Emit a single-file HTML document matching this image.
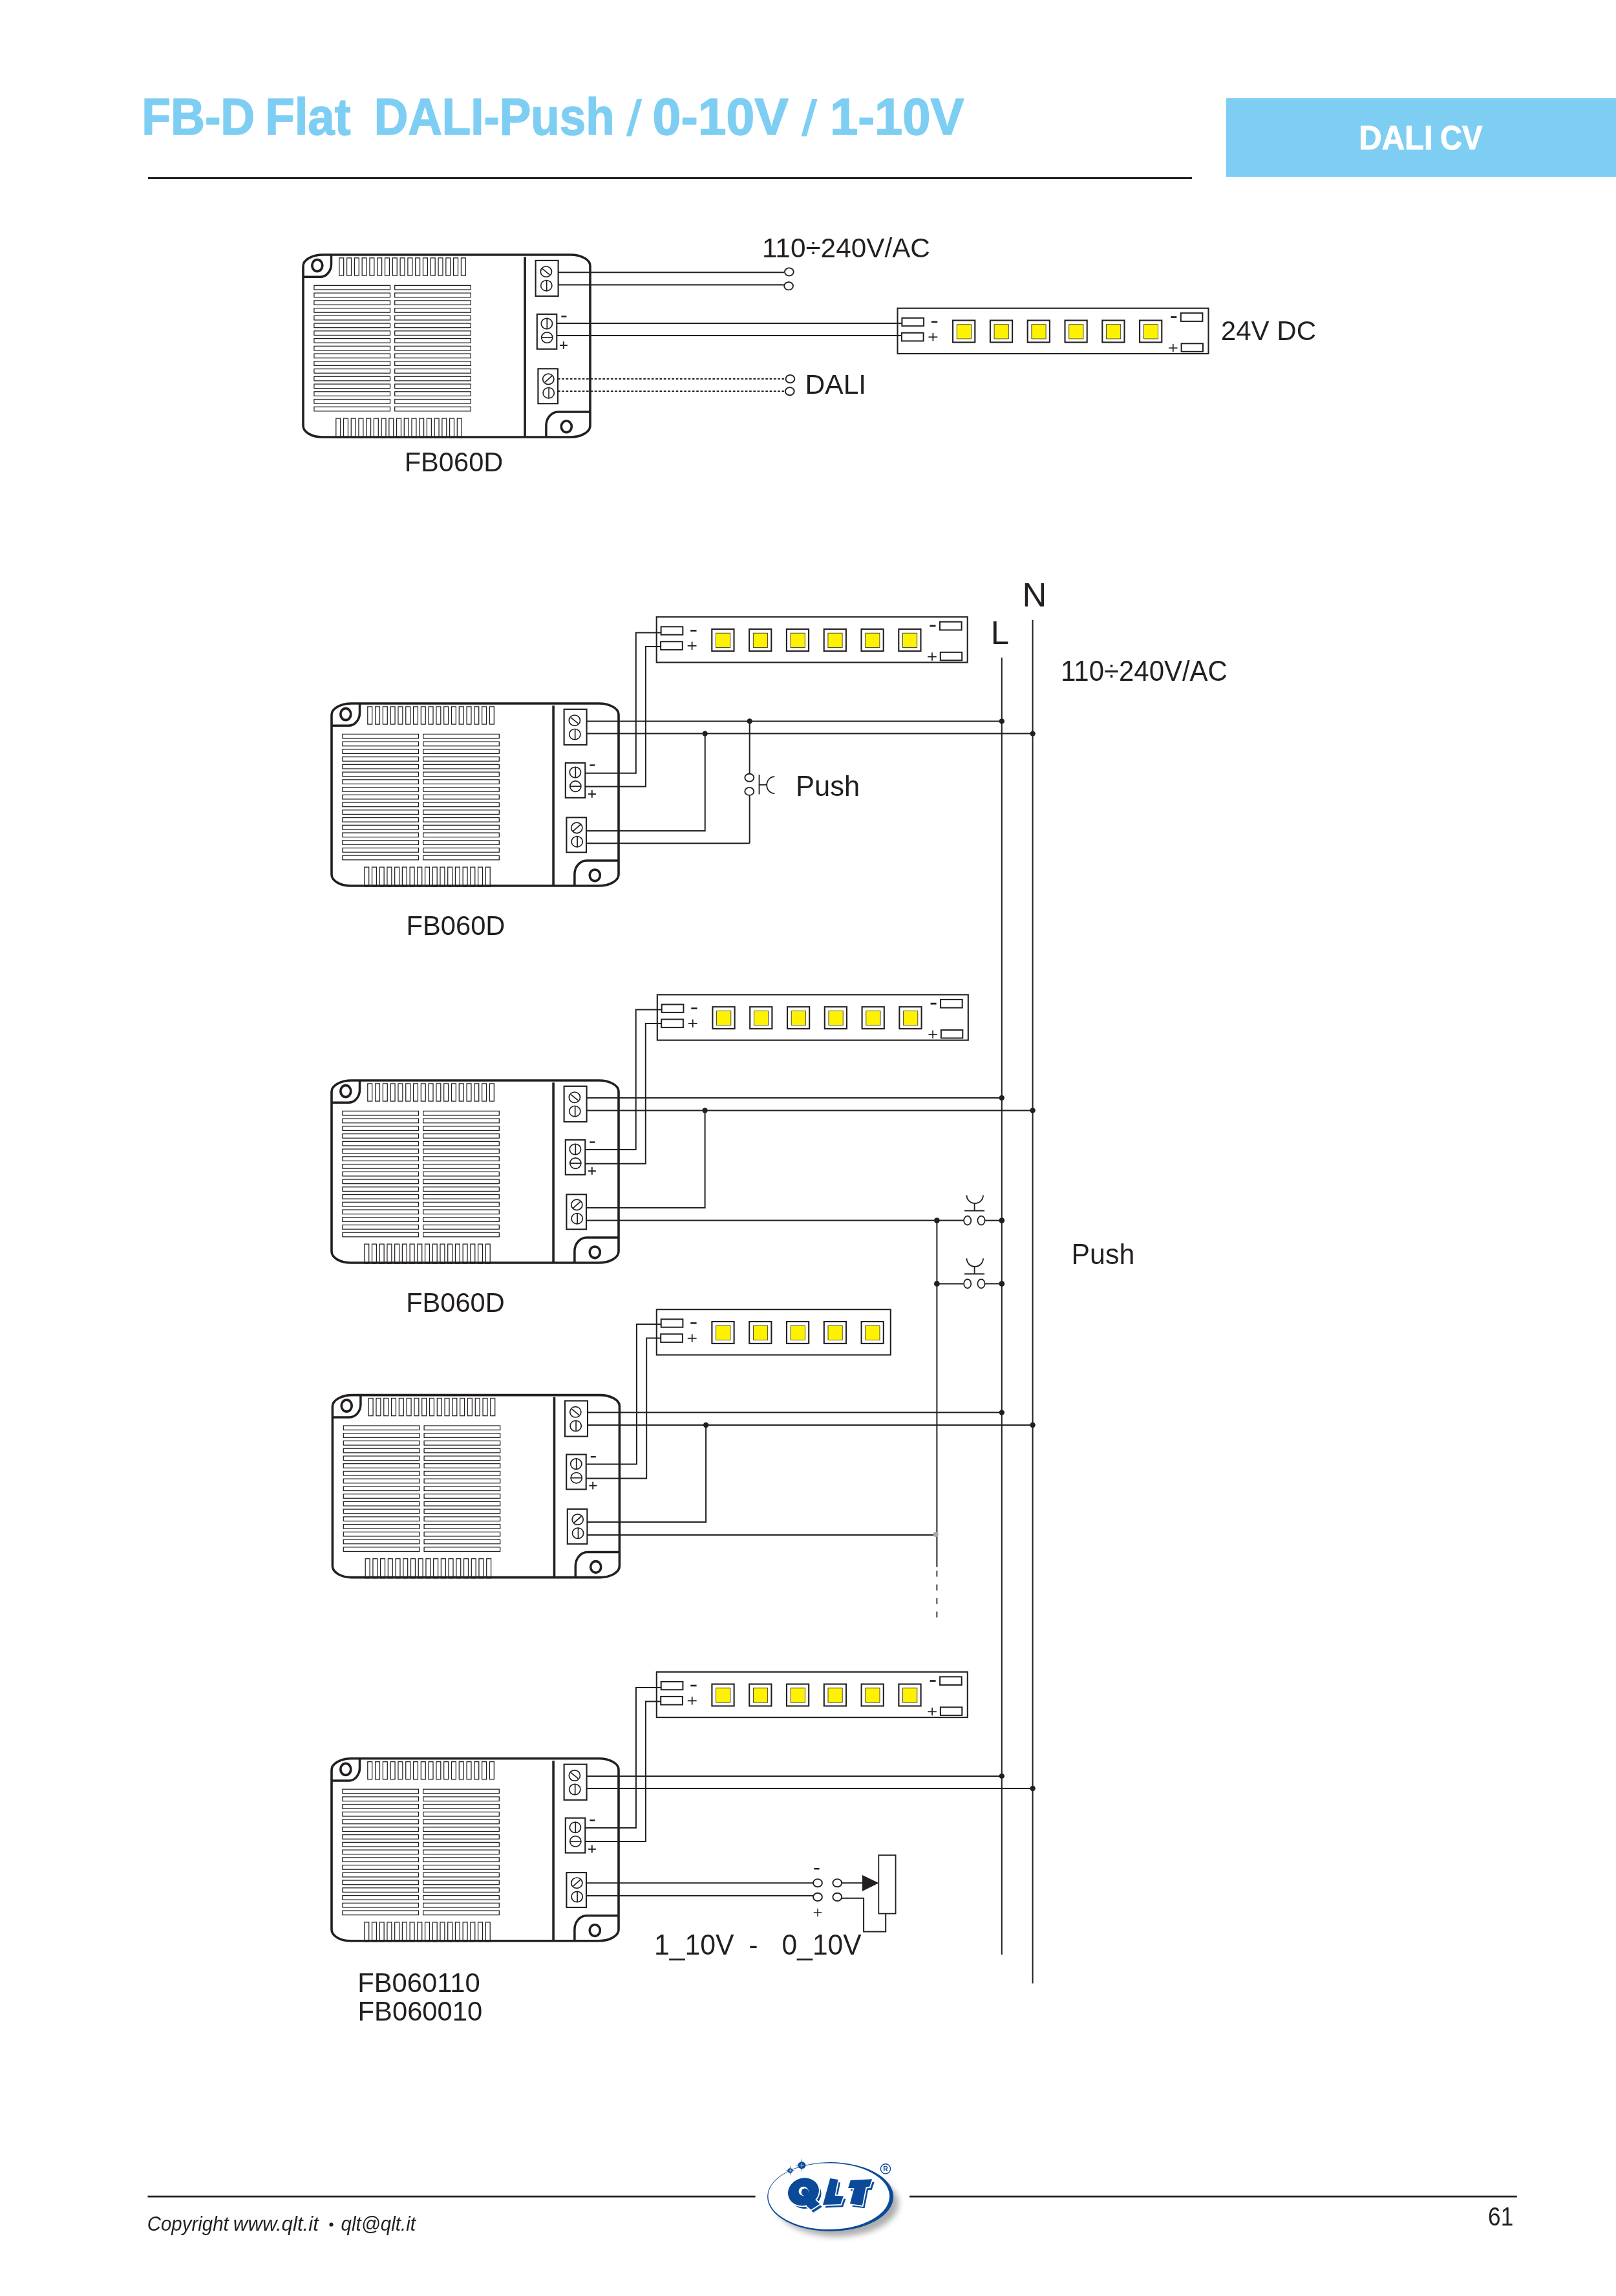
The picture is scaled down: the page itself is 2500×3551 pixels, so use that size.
<!DOCTYPE html><html><head><meta charset="utf-8"><style>html,body{margin:0;padding:0;background:#fff;width:2500px;height:3551px;overflow:hidden}svg{display:block;will-change:transform}text{font-family:"Liberation Sans",sans-serif}</style></head><body>
<svg width="2500" height="3551" viewBox="0 0 2500 3551">
<defs>
<g id="dev">
<rect x="55.8" y="4.9" width="6.9" height="27.2" stroke-width="1.25"/>
<rect x="67.59" y="4.9" width="6.9" height="27.2" stroke-width="1.25"/>
<rect x="79.38" y="4.9" width="6.9" height="27.2" stroke-width="1.25"/>
<rect x="91.17" y="4.9" width="6.9" height="27.2" stroke-width="1.25"/>
<rect x="102.96" y="4.9" width="6.9" height="27.2" stroke-width="1.25"/>
<rect x="114.75" y="4.9" width="6.9" height="27.2" stroke-width="1.25"/>
<rect x="126.54" y="4.9" width="6.9" height="27.2" stroke-width="1.25"/>
<rect x="138.33" y="4.9" width="6.9" height="27.2" stroke-width="1.25"/>
<rect x="150.12" y="4.9" width="6.9" height="27.2" stroke-width="1.25"/>
<rect x="161.91" y="4.9" width="6.9" height="27.2" stroke-width="1.25"/>
<rect x="173.7" y="4.9" width="6.9" height="27.2" stroke-width="1.25"/>
<rect x="185.49" y="4.9" width="6.9" height="27.2" stroke-width="1.25"/>
<rect x="197.28" y="4.9" width="6.9" height="27.2" stroke-width="1.25"/>
<rect x="209.07" y="4.9" width="6.9" height="27.2" stroke-width="1.25"/>
<rect x="220.86" y="4.9" width="6.9" height="27.2" stroke-width="1.25"/>
<rect x="232.65" y="4.9" width="6.9" height="27.2" stroke-width="1.25"/>
<rect x="244.44" y="4.9" width="6.9" height="27.2" stroke-width="1.25"/>
<rect x="50.8" y="253.1" width="6.9" height="30" stroke-width="1.25"/>
<rect x="62.52" y="253.1" width="6.9" height="30" stroke-width="1.25"/>
<rect x="74.24" y="253.1" width="6.9" height="30" stroke-width="1.25"/>
<rect x="85.96" y="253.1" width="6.9" height="30" stroke-width="1.25"/>
<rect x="97.68" y="253.1" width="6.9" height="30" stroke-width="1.25"/>
<rect x="109.4" y="253.1" width="6.9" height="30" stroke-width="1.25"/>
<rect x="121.12" y="253.1" width="6.9" height="30" stroke-width="1.25"/>
<rect x="132.84" y="253.1" width="6.9" height="30" stroke-width="1.25"/>
<rect x="144.56" y="253.1" width="6.9" height="30" stroke-width="1.25"/>
<rect x="156.28" y="253.1" width="6.9" height="30" stroke-width="1.25"/>
<rect x="168" y="253.1" width="6.9" height="30" stroke-width="1.25"/>
<rect x="179.72" y="253.1" width="6.9" height="30" stroke-width="1.25"/>
<rect x="191.44" y="253.1" width="6.9" height="30" stroke-width="1.25"/>
<rect x="203.16" y="253.1" width="6.9" height="30" stroke-width="1.25"/>
<rect x="214.88" y="253.1" width="6.9" height="30" stroke-width="1.25"/>
<rect x="226.6" y="253.1" width="6.9" height="30" stroke-width="1.25"/>
<rect x="238.32" y="253.1" width="6.9" height="30" stroke-width="1.25"/>
<rect x="16.9" y="47.4" width="117.6" height="6.6" stroke-width="1.25"/>
<rect x="141.7" y="47.4" width="117.6" height="6.6" stroke-width="1.25"/>
<rect x="16.9" y="59.14" width="117.6" height="6.6" stroke-width="1.25"/>
<rect x="141.7" y="59.14" width="117.6" height="6.6" stroke-width="1.25"/>
<rect x="16.9" y="70.88" width="117.6" height="6.6" stroke-width="1.25"/>
<rect x="141.7" y="70.88" width="117.6" height="6.6" stroke-width="1.25"/>
<rect x="16.9" y="82.62" width="117.6" height="6.6" stroke-width="1.25"/>
<rect x="141.7" y="82.62" width="117.6" height="6.6" stroke-width="1.25"/>
<rect x="16.9" y="94.36" width="117.6" height="6.6" stroke-width="1.25"/>
<rect x="141.7" y="94.36" width="117.6" height="6.6" stroke-width="1.25"/>
<rect x="16.9" y="106.1" width="117.6" height="6.6" stroke-width="1.25"/>
<rect x="141.7" y="106.1" width="117.6" height="6.6" stroke-width="1.25"/>
<rect x="16.9" y="117.84" width="117.6" height="6.6" stroke-width="1.25"/>
<rect x="141.7" y="117.84" width="117.6" height="6.6" stroke-width="1.25"/>
<rect x="16.9" y="129.58" width="117.6" height="6.6" stroke-width="1.25"/>
<rect x="141.7" y="129.58" width="117.6" height="6.6" stroke-width="1.25"/>
<rect x="16.9" y="141.32" width="117.6" height="6.6" stroke-width="1.25"/>
<rect x="141.7" y="141.32" width="117.6" height="6.6" stroke-width="1.25"/>
<rect x="16.9" y="153.06" width="117.6" height="6.6" stroke-width="1.25"/>
<rect x="141.7" y="153.06" width="117.6" height="6.6" stroke-width="1.25"/>
<rect x="16.9" y="164.8" width="117.6" height="6.6" stroke-width="1.25"/>
<rect x="141.7" y="164.8" width="117.6" height="6.6" stroke-width="1.25"/>
<rect x="16.9" y="176.54" width="117.6" height="6.6" stroke-width="1.25"/>
<rect x="141.7" y="176.54" width="117.6" height="6.6" stroke-width="1.25"/>
<rect x="16.9" y="188.28" width="117.6" height="6.6" stroke-width="1.25"/>
<rect x="141.7" y="188.28" width="117.6" height="6.6" stroke-width="1.25"/>
<rect x="16.9" y="200.02" width="117.6" height="6.6" stroke-width="1.25"/>
<rect x="141.7" y="200.02" width="117.6" height="6.6" stroke-width="1.25"/>
<rect x="16.9" y="211.76" width="117.6" height="6.6" stroke-width="1.25"/>
<rect x="141.7" y="211.76" width="117.6" height="6.6" stroke-width="1.25"/>
<rect x="16.9" y="223.5" width="117.6" height="6.6" stroke-width="1.25"/>
<rect x="141.7" y="223.5" width="117.6" height="6.6" stroke-width="1.25"/>
<rect x="16.9" y="235.24" width="117.6" height="6.6" stroke-width="1.25"/>
<rect x="141.7" y="235.24" width="117.6" height="6.6" stroke-width="1.25"/>
<path d="M0,17.5 A31,17.5 0 0 1 31,0 H413.5 A30.5,17 0 0 1 444,17 V264.5 A30.5,17.5 0 0 1 413.5,282 H29.5 A29.5,17.5 0 0 1 0,264.5 Z" stroke-width="3.6" fill="none"/>
<line x1="343.1" y1="3.2" x2="343.1" y2="281" stroke-width="3.6"/>
<path d="M43.5,0 V14.5 A17.3,19.8 0 0 1 26.2,34.3 H0" stroke-width="3.5" fill="none"/>
<ellipse cx="21.8" cy="16.6" rx="8.0" ry="9.0" stroke-width="3.7" fill="none"/>
<path d="M444,243 H394.4 A18.5,21.4 0 0 0 375.9,264.4 V282" stroke-width="3.5" fill="none"/>
<ellipse cx="407.3" cy="265.8" rx="8.05" ry="8.8" stroke-width="3.6" fill="none"/>
<rect x="359.6" y="8.9" width="35" height="55.1" stroke-width="2.1" fill="none"/>
<ellipse cx="375.9" cy="26.2" rx="8.6" ry="8.2" stroke-width="1.7" fill="none"/>
<line x1="370" y1="21.6" x2="381.3" y2="30.8" stroke-width="1.7"/>
<ellipse cx="376.3" cy="47.7" rx="8.6" ry="8.2" stroke-width="1.7" fill="none"/>
<line x1="376.7" y1="39.1" x2="376.7" y2="56.3" stroke-width="1.7"/>
<rect x="361.8" y="91.9" width="30.5" height="53.9" stroke-width="2.1" fill="none"/>
<ellipse cx="376.9" cy="106.5" rx="8.6" ry="8.2" stroke-width="1.7" fill="none"/>
<line x1="377.3" y1="97.9" x2="377.3" y2="115.1" stroke-width="1.7"/>
<ellipse cx="377.3" cy="128.1" rx="8.6" ry="8.2" stroke-width="1.7" fill="none"/>
<line x1="368.7" y1="128.1" x2="385.9" y2="128.1" stroke-width="1.7"/>
<rect x="363.4" y="176.3" width="30.6" height="53.9" stroke-width="2.1" fill="none"/>
<ellipse cx="379.3" cy="192.4" rx="8.6" ry="8.2" stroke-width="1.7" fill="none"/>
<line x1="373.7" y1="197.4" x2="384.9" y2="187.4" stroke-width="1.7"/>
<ellipse cx="379.7" cy="213.7" rx="8.6" ry="8.2" stroke-width="1.7" fill="none"/>
<line x1="380.1" y1="205.1" x2="380.1" y2="222.3" stroke-width="1.7"/>
<line x1="399.4" y1="95.5" x2="407.4" y2="95.5" stroke-width="2.4"/>
<line x1="397" y1="140.1" x2="408.9" y2="140.1" stroke-width="1.9"/>
<line x1="402.8" y1="134.1" x2="402.8" y2="145.8" stroke-width="1.9"/>
</g>
<g id="strip6">
<rect x="0" y="0" width="481" height="70.3" stroke-width="2.1" fill="#fff"/>
<rect x="6.9" y="15.1" width="33.7" height="12.4" stroke-width="2"/>
<rect x="6.4" y="38.1" width="33.7" height="12.6" stroke-width="2"/>
<line x1="52.5" y1="21.2" x2="61.8" y2="21.2" stroke-width="2.6"/>
<line x1="48" y1="44.6" x2="61.8" y2="44.6" stroke-width="1.8"/>
<line x1="54.9" y1="38.2" x2="54.9" y2="50.7" stroke-width="1.8"/>
<rect x="85.6" y="18.8" width="34.2" height="33.9" stroke-width="2.1"/>
<rect x="91.8" y="25" width="22.2" height="22.3" fill="#fff200" stroke="#3d3a2a" stroke-width="0.9"/>
<rect x="143.4" y="18.8" width="34.2" height="33.9" stroke-width="2.1"/>
<rect x="149.6" y="25" width="22.2" height="22.3" fill="#fff200" stroke="#3d3a2a" stroke-width="0.9"/>
<rect x="201.2" y="18.8" width="34.2" height="33.9" stroke-width="2.1"/>
<rect x="207.4" y="25" width="22.2" height="22.3" fill="#fff200" stroke="#3d3a2a" stroke-width="0.9"/>
<rect x="259" y="18.8" width="34.2" height="33.9" stroke-width="2.1"/>
<rect x="265.2" y="25" width="22.2" height="22.3" fill="#fff200" stroke="#3d3a2a" stroke-width="0.9"/>
<rect x="316.8" y="18.8" width="34.2" height="33.9" stroke-width="2.1"/>
<rect x="323" y="25" width="22.2" height="22.3" fill="#fff200" stroke="#3d3a2a" stroke-width="0.9"/>
<rect x="374.6" y="18.8" width="34.2" height="33.9" stroke-width="2.1"/>
<rect x="380.8" y="25" width="22.2" height="22.3" fill="#fff200" stroke="#3d3a2a" stroke-width="0.9"/>
<rect x="438.3" y="7.5" width="33.6" height="12.7" stroke-width="2"/>
<rect x="439.1" y="54.6" width="33.4" height="12.5" stroke-width="2"/>
<line x1="422.8" y1="13.8" x2="431.8" y2="13.8" stroke-width="2.8"/>
<line x1="419.6" y1="61.5" x2="433" y2="61.5" stroke-width="1.7"/>
<line x1="426.3" y1="55.1" x2="426.3" y2="67.5" stroke-width="1.7"/>
</g>
<g id="strip5">
<rect x="0" y="0" width="362" height="70.3" stroke-width="2.1" fill="#fff"/>
<rect x="6.9" y="15.1" width="33.7" height="12.4" stroke-width="2"/>
<rect x="6.4" y="38.1" width="33.7" height="12.6" stroke-width="2"/>
<line x1="52.5" y1="21.2" x2="61.8" y2="21.2" stroke-width="2.6"/>
<line x1="48" y1="44.6" x2="61.8" y2="44.6" stroke-width="1.8"/>
<line x1="54.9" y1="38.2" x2="54.9" y2="50.7" stroke-width="1.8"/>
<rect x="85.6" y="18.8" width="34.2" height="33.9" stroke-width="2.1"/>
<rect x="91.8" y="25" width="22.2" height="22.3" fill="#fff200" stroke="#3d3a2a" stroke-width="0.9"/>
<rect x="143.4" y="18.8" width="34.2" height="33.9" stroke-width="2.1"/>
<rect x="149.6" y="25" width="22.2" height="22.3" fill="#fff200" stroke="#3d3a2a" stroke-width="0.9"/>
<rect x="201.2" y="18.8" width="34.2" height="33.9" stroke-width="2.1"/>
<rect x="207.4" y="25" width="22.2" height="22.3" fill="#fff200" stroke="#3d3a2a" stroke-width="0.9"/>
<rect x="259" y="18.8" width="34.2" height="33.9" stroke-width="2.1"/>
<rect x="265.2" y="25" width="22.2" height="22.3" fill="#fff200" stroke="#3d3a2a" stroke-width="0.9"/>
<rect x="316.8" y="18.8" width="34.2" height="33.9" stroke-width="2.1"/>
<rect x="323" y="25" width="22.2" height="22.3" fill="#fff200" stroke="#3d3a2a" stroke-width="0.9"/>
</g>
<filter id="sh" x="-20%" y="-20%" width="140%" height="160%"><feGaussianBlur stdDeviation="5"/></filter>
</defs>
<rect width="2500" height="3551" fill="#fff"/>
<text xml:space="preserve" x="219.2" y="207.8" font-size="79.07" style="font-weight:bold;" fill="#7ecef4" textLength="175.08" lengthAdjust="spacingAndGlyphs"  stroke="#7ecef4" stroke-width="1.6" stroke-linejoin="round">FB-D</text>
<text xml:space="preserve" x="410.23" y="207.8" font-size="79.07" style="font-weight:bold;" fill="#7ecef4" textLength="132.18" lengthAdjust="spacingAndGlyphs"  stroke="#7ecef4" stroke-width="1.6" stroke-linejoin="round">Flat</text>
<text xml:space="preserve" x="578.63" y="207.8" font-size="79.07" style="font-weight:bold;" fill="#7ecef4" textLength="372.08" lengthAdjust="spacingAndGlyphs"  stroke="#7ecef4" stroke-width="1.6" stroke-linejoin="round">DALI-Push</text>
<text xml:space="preserve" x="1009.58" y="207.8" font-size="79.07" style="font-weight:bold;" fill="#7ecef4" textLength="210.36" lengthAdjust="spacingAndGlyphs"  stroke="#7ecef4" stroke-width="1.6" stroke-linejoin="round">0-10V</text>
<text xml:space="preserve" x="1283.9" y="207.8" font-size="79.07" style="font-weight:bold;" fill="#7ecef4" textLength="207.63" lengthAdjust="spacingAndGlyphs"  stroke="#7ecef4" stroke-width="1.6" stroke-linejoin="round">1-10V</text>
<polygon points="985.3,153 993.4,153 976.6,210.7 968.6,210.7" fill="#7ecef4"/>
<polygon points="1256.2,153 1264.6,153 1247.7,210.7 1239.5,210.7" fill="#7ecef4"/>
<line x1="229" y1="275.4" x2="1844" y2="275.4" stroke="#231f20" stroke-width="3"/>
<rect x="1896.8" y="151.8" width="603.2" height="122" fill="#7ecef4"/>
<text xml:space="preserve" x="2102.22" y="231.3" font-size="52.03" style="font-weight:bold;" fill="#fff" textLength="114.46" lengthAdjust="spacingAndGlyphs"  stroke="#fff" stroke-width="1.0" stroke-linejoin="round">DALI</text>
<text xml:space="preserve" x="2228.07" y="231.3" font-size="52.03" style="font-weight:bold;" fill="#fff" textLength="65.25" lengthAdjust="spacingAndGlyphs"  stroke="#fff" stroke-width="1.0" stroke-linejoin="round">CV</text>
<g stroke="#231f20" fill="none" stroke-linecap="butt">
<use href="#dev" x="469" y="394"/>
<use href="#strip6" x="1388.5" y="476.7"/>
<line x1="863.6" y1="421.2" x2="1213.1" y2="421.2" stroke-width="2" />
<line x1="863.6" y1="440.5" x2="1212.6" y2="440.5" stroke-width="2" />
<ellipse cx="1220.85" cy="420.5" rx="6.9" ry="6.1" stroke-width="1.9" fill="#fff"/>
<ellipse cx="1220.05" cy="442.3" rx="6.9" ry="6.1" stroke-width="1.9" fill="#fff"/>
<line x1="861.3" y1="500" x2="1395.4" y2="500" stroke-width="2" />
<line x1="861.3" y1="519" x2="1394.9" y2="519" stroke-width="2" />
<line x1="863" y1="586" x2="1215.8" y2="586" stroke-width="2" stroke-dasharray="3.6 2.7"/>
<line x1="863" y1="605" x2="1215.2" y2="605" stroke-width="2" stroke-dasharray="3.6 2.7"/>
<ellipse cx="1222.4" cy="586" rx="6.9" ry="6.1" stroke-width="1.9" fill="#fff"/>
<ellipse cx="1221.8" cy="605.2" rx="6.9" ry="6.1" stroke-width="1.9" fill="#fff"/>
<use href="#dev" x="513" y="1088"/>
<use href="#dev" x="513" y="1671"/>
<use href="#dev" x="514.4" y="2157.6"/>
<use href="#dev" x="513" y="2719.8"/>
<use href="#strip6" x="1015.7" y="954.2"/>
<use href="#strip6" x="1016.8" y="1538.4"/>
<use href="#strip5" x="1015.8" y="2025.2"/>
<use href="#strip6" x="1015.8" y="2585.8"/>
<line x1="1549.8" y1="1017" x2="1549.8" y2="3023" stroke-width="2" />
<line x1="1597.6" y1="958.8" x2="1597.6" y2="3067.6" stroke-width="2" />
<line x1="907.6" y1="1115.4" x2="1549.8" y2="1115.4" stroke-width="2" />
<line x1="907.6" y1="1134.6" x2="1597.6" y2="1134.6" stroke-width="2" />
<circle cx="1549.8" cy="1115.4" r="4.2" fill="#231f20" stroke="none"/>
<circle cx="1597.6" cy="1134.6" r="4.2" fill="#231f20" stroke="none"/>
<polyline points="905.3,1195.7 983.8,1195.7 983.8,978.6 1022.6,978.6" stroke-width="2" fill="none" />
<polyline points="905.3,1216.6 998.9,1216.6 998.9,999.9 1022.1,999.9" stroke-width="2" fill="none" />
<polyline points="907,1285 1090.7,1285 1090.7,1134.6" stroke-width="2" fill="none" />
<circle cx="1090.7" cy="1134.6" r="4.2" fill="#231f20" stroke="none"/>
<line x1="907.6" y1="1698" x2="1549.8" y2="1698" stroke-width="2" />
<line x1="907.6" y1="1717.4" x2="1597.6" y2="1717.4" stroke-width="2" />
<circle cx="1549.8" cy="1698" r="4.2" fill="#231f20" stroke="none"/>
<circle cx="1597.6" cy="1717.4" r="4.2" fill="#231f20" stroke="none"/>
<polyline points="905.3,1778.1 983.7,1778.1 983.7,1561.5 1023.7,1561.5" stroke-width="2" fill="none" />
<polyline points="905.3,1799.8 998.8,1799.8 998.8,1582.9 1023.2,1582.9" stroke-width="2" fill="none" />
<polyline points="907,1867.9 1090.6,1867.9 1090.6,1717.4" stroke-width="2" fill="none" />
<circle cx="1090.6" cy="1717.4" r="4.2" fill="#231f20" stroke="none"/>
<line x1="909" y1="2184.6" x2="1549.8" y2="2184.6" stroke-width="2" />
<line x1="909" y1="2204" x2="1597.6" y2="2204" stroke-width="2" />
<circle cx="1549.8" cy="2184.6" r="4.2" fill="#231f20" stroke="none"/>
<circle cx="1597.6" cy="2204" r="4.2" fill="#231f20" stroke="none"/>
<polyline points="906.7,2264.5 985,2264.5 985,2048 1022.7,2048" stroke-width="2" fill="none" />
<polyline points="906.7,2286.6 1000.2,2286.6 1000.2,2069.4 1022.2,2069.4" stroke-width="2" fill="none" />
<polyline points="908.4,2354 1092.1,2354 1092.1,2204" stroke-width="2" fill="none" />
<circle cx="1092.1" cy="2204" r="4.2" fill="#231f20" stroke="none"/>
<line x1="907.6" y1="2746.9" x2="1549.8" y2="2746.9" stroke-width="2" />
<line x1="907.6" y1="2766" x2="1597.6" y2="2766" stroke-width="2" />
<circle cx="1549.8" cy="2746.9" r="4.2" fill="#231f20" stroke="none"/>
<circle cx="1597.6" cy="2766" r="4.2" fill="#231f20" stroke="none"/>
<polyline points="905.3,2826.9 983.9,2826.9 983.9,2610 1022.7,2610" stroke-width="2" fill="none" />
<polyline points="905.3,2848 998.9,2848 998.9,2631.4 1022.2,2631.4" stroke-width="2" fill="none" />
<line x1="907" y1="1304.3" x2="1159.7" y2="1304.3" stroke-width="2" />
<line x1="1159.7" y1="1304.3" x2="1159.7" y2="1230" stroke-width="2" />
<line x1="1159.7" y1="1196.5" x2="1159.7" y2="1115.4" stroke-width="2" />
<circle cx="1159.7" cy="1115.4" r="4.2" fill="#231f20" stroke="none"/>
<ellipse cx="1159.3" cy="1202.8" rx="7" ry="6" stroke-width="1.9" fill="#fff"/>
<ellipse cx="1159.3" cy="1223.9" rx="7" ry="6" stroke-width="1.9" fill="#fff"/>
<line x1="1174.5" y1="1198" x2="1174.5" y2="1228.5" stroke-width="1.8" />
<line x1="1174.5" y1="1213.8" x2="1186.2" y2="1213.8" stroke-width="1.8" />
<path d="M1198.3,1201.2 A12.1,13 0 0 0 1198.3,1227.2" stroke-width="1.8"/>
<line x1="907" y1="1887.6" x2="1449.4" y2="1887.6" stroke-width="2" />
<circle cx="1449.4" cy="1887.6" r="4.4" fill="#231f20" stroke="none"/>
<line x1="1449.4" y1="1887.6" x2="1490.8" y2="1887.6" stroke-width="2" />
<line x1="1524" y1="1887.6" x2="1549.8" y2="1887.6" stroke-width="2" />
<ellipse cx="1496.7" cy="1887.6" rx="5.6" ry="6.9" stroke-width="1.8" fill="#fff"/>
<ellipse cx="1518" cy="1887.6" rx="5.6" ry="6.9" stroke-width="1.8" fill="#fff"/>
<circle cx="1549.8" cy="1887.6" r="4.4" fill="#231f20" stroke="none"/>
<line x1="1492" y1="1872.5" x2="1523" y2="1872.5" stroke-width="2" />
<line x1="1507.6" y1="1872.5" x2="1507.6" y2="1861.1" stroke-width="1.8" />
<path d="M1495.5,1848.5 A12.7,12.6 0 0 0 1521,1848.5" stroke-width="1.8"/>
<circle cx="1449.4" cy="1985.4" r="4.4" fill="#231f20" stroke="none"/>
<line x1="1449.4" y1="1985.4" x2="1490.8" y2="1985.4" stroke-width="2" />
<line x1="1524" y1="1985.4" x2="1549.8" y2="1985.4" stroke-width="2" />
<ellipse cx="1496.7" cy="1985.4" rx="5.6" ry="6.9" stroke-width="1.8" fill="#fff"/>
<ellipse cx="1518" cy="1985.4" rx="5.6" ry="6.9" stroke-width="1.8" fill="#fff"/>
<circle cx="1549.8" cy="1985.4" r="4.4" fill="#231f20" stroke="none"/>
<line x1="1492" y1="1970.3" x2="1523" y2="1970.3" stroke-width="2" />
<line x1="1507.6" y1="1970.3" x2="1507.6" y2="1958.9" stroke-width="1.8" />
<path d="M1495.5,1946.3 A12.7,12.6 0 0 0 1521,1946.3" stroke-width="1.8"/>
<line x1="1449.4" y1="1887.2" x2="1449.4" y2="2423.5" stroke-width="2" />
<line x1="1449.4" y1="2429.3" x2="1449.4" y2="2501.4" stroke-width="1.8" stroke-dasharray="9.3 11.8"/>
<line x1="908.4" y1="2373.9" x2="1449.4" y2="2373.9" stroke-width="2" />
<circle cx="1447.8" cy="2372.9" r="4" fill="#a7a9ac" stroke="none"/>
<line x1="907" y1="2912.3" x2="1258" y2="2912.3" stroke-width="2" />
<line x1="907" y1="2932" x2="1258" y2="2932" stroke-width="2" />
<ellipse cx="1265" cy="2912.2" rx="6.9" ry="6.1" stroke-width="1.9" fill="#fff"/>
<ellipse cx="1265" cy="2933.9" rx="6.9" ry="6.1" stroke-width="1.9" fill="#fff"/>
<ellipse cx="1295.3" cy="2912.2" rx="6.9" ry="6.1" stroke-width="1.9" fill="#fff"/>
<ellipse cx="1295.3" cy="2933.9" rx="6.9" ry="6.1" stroke-width="1.9" fill="#fff"/>
<line x1="1302" y1="2912.2" x2="1334" y2="2912.2" stroke-width="2" />
<path d="M1334,2900 L1359.5,2912.2 L1334,2925 Z" fill="#231f20" stroke="none"/>
<rect x="1359.3" y="2869.2" width="26.3" height="90.4" stroke-width="1.8" fill="none"/>
<polyline points="1302,2935.7 1336.1,2935.7 1336.1,2987.4 1370.2,2987.4 1370.2,2959.6" stroke-width="2" fill="none" />
<line x1="1259.4" y1="2890.2" x2="1267.6" y2="2890.2" stroke-width="2.5" />
<line x1="1258.8" y1="2958" x2="1271.2" y2="2958" stroke-width="1.5" />
<line x1="1265" y1="2951.8" x2="1265" y2="2964.2" stroke-width="1.5" />
</g>
<text xml:space="preserve" x="1178.98" y="398.2" font-size="42.31" style="" fill="#231f20"  transform="translate(0 398.2) scale(1 1.0066) translate(0 -398.2)">110÷240V/AC</text>
<text xml:space="preserve" x="1888.78" y="525.7" font-size="42.07" style="" fill="#231f20"  transform="translate(0 525.7) scale(1 1.0260) translate(0 -525.7)">24V DC</text>
<text xml:space="preserve" x="1245.5" y="609.2" font-size="42.61" style="" fill="#231f20"  transform="translate(0 609.2) scale(1 1.0097) translate(0 -609.2)">DALI</text>
<text xml:space="preserve" x="625.69" y="728.9" font-size="41.63" style="" fill="#231f20"  transform="translate(0 728.9) scale(1 1.0423) translate(0 -728.9)">FB060D</text>
<text xml:space="preserve" x="1581.51" y="937.6" font-size="52.27" style="" fill="#231f20" >N</text>
<text xml:space="preserve" x="1532.83" y="996.4" font-size="50.8" style="" fill="#231f20" >L</text>
<text xml:space="preserve" x="1641.1" y="1052.7" font-size="41.96" style="" fill="#231f20"  transform="translate(0 1052.7) scale(1 1.0357) translate(0 -1052.7)">110÷240V/AC</text>
<text xml:space="preserve" x="1230.93" y="1230.9" font-size="43.52" style="" fill="#231f20"  transform="translate(0 1230.9) scale(1 1.0153) translate(0 -1230.9)">Push</text>
<text xml:space="preserve" x="628.48" y="1445.7" font-size="41.71" style="" fill="#231f20"  transform="translate(0 1445.7) scale(1 1.0384) translate(0 -1445.7)">FB060D</text>
<text xml:space="preserve" x="1657.48" y="1954.6" font-size="42.91" style="" fill="#231f20"  transform="translate(0 1954.6) scale(1 1.0297) translate(0 -1954.6)">Push</text>
<text xml:space="preserve" x="628.19" y="2028.9" font-size="41.6" style="" fill="#231f20"  transform="translate(0 2028.9) scale(1 1.0412) translate(0 -2028.9)">FB060D</text>
<text xml:space="preserve" x="1011.94" y="3023.2" font-size="42.76" style="" fill="#231f20"  transform="translate(0 3023.2) scale(1 1.0367) translate(0 -3023.2)">1_10V</text>
<text xml:space="preserve" x="1158.43" y="3023.2" font-size="42" style="" fill="#231f20" >-</text>
<text xml:space="preserve" x="1209.54" y="3023.2" font-size="42.59" style="" fill="#231f20"  transform="translate(0 3023.2) scale(1 1.0409) translate(0 -3023.2)">0_10V</text>
<text xml:space="preserve" x="553.17" y="3080.7" font-size="41.77" style="" fill="#231f20"  transform="translate(0 3080.7) scale(1 1.0265) translate(0 -3080.7)">FB060110</text>
<text xml:space="preserve" x="553.57" y="3124.7" font-size="41.77" style="" fill="#231f20"  transform="translate(0 3124.7) scale(1 1.0265) translate(0 -3124.7)">FB060010</text>
<line x1="228.5" y1="3397.1" x2="1168.6" y2="3397.1" stroke="#231f20" stroke-width="2.6"/>
<line x1="1407.1" y1="3397.1" x2="2346.8" y2="3397.1" stroke="#231f20" stroke-width="2.6"/>
<text xml:space="preserve" x="227.78" y="3449.7" font-size="31.54" style="font-style:italic;" fill="#231f20" textLength="125.9" lengthAdjust="spacingAndGlyphs" >Copyright</text>
<text xml:space="preserve" x="360.86" y="3449.7" font-size="31.54" style="font-style:italic;" fill="#231f20" textLength="132.07" lengthAdjust="spacingAndGlyphs" >www.qlt.it</text>
<text xml:space="preserve" x="527.6" y="3449.7" font-size="31.54" style="font-style:italic;" fill="#231f20" textLength="115.37" lengthAdjust="spacingAndGlyphs" >qlt@qlt.it</text>
<circle cx="512.5" cy="3440.5" r="3.1" fill="#231f20" stroke="none"/>
<text xml:space="preserve" x="2302.11" y="3442" font-size="40.99" style="" fill="#231f20" textLength="39.1" lengthAdjust="spacingAndGlyphs" >61</text>
<ellipse cx="1295" cy="3408" rx="95" ry="51" fill="#8a8a8a" opacity="0.7" filter="url(#sh)"/>
<ellipse cx="1284.6" cy="3397.5" rx="97.5" ry="53.4" fill="#0a4a99"/>
<ellipse cx="1282.25" cy="3396.75" rx="93.85" ry="51.35" fill="#fff"/>
<defs><g id="qlt"><ellipse cx="1242.95" cy="3389.9" rx="24.3" ry="21.2" transform="rotate(-20 1242.95 3389.9)"/><polygon points="1260.6,3401.8 1268.3,3408.7 1254.6,3417.4 1247.6,3411.5 1252,3404"/><polygon points="1284.26,3369.1 1296.5,3371 1291.5,3395.7 1304.9,3396.4 1300.5,3408.9 1273.1,3410.1"/><polygon points="1315.8,3371.9 1349.2,3370.2 1345.1,3382.3 1339.5,3382.7 1333.9,3410.9 1314.9,3408.3 1321.4,3384.3 1312.1,3384"/></g></defs>
<use href="#qlt" transform="translate(3.6,4.4)" fill="#0a4a99"/>
<use href="#qlt" fill="#fff" stroke="#fff" stroke-width="3.6" stroke-linejoin="miter"/>
<use href="#qlt" fill="#0a4a99"/>
<ellipse cx="1243.2" cy="3389" rx="7.66" ry="7.2" fill="#fff"/>
<ellipse cx="1245.3" cy="3390.4" rx="5.6" ry="5.8" fill="#0a4a99"/>
<ellipse cx="1240.4" cy="3348.8" rx="6" ry="5.5200000000000005" fill="#0a4a99"/>
<path d="M1240.4,3337.8 L1241.6000000000001,3348.8 L1240.4,3359.8 L1239.2,3348.8 Z M1229.4,3348.8 L1240.4,3350.0 L1251.4,3348.8 L1240.4,3347.6000000000004 Z" fill="#0a4a99"/>
<path d="M1236.8000000000002,3348.8 H1244.0 M1240.4,3345.2000000000003 V3352.4" stroke="#fff" stroke-width="0.9" opacity="0.8"/>
<ellipse cx="1222.4" cy="3357.1" rx="4" ry="3.68" fill="#0a4a99"/>
<path d="M1222.4,3349.1 L1223.6000000000001,3357.1 L1222.4,3365.1 L1221.2,3357.1 Z M1214.4,3357.1 L1222.4,3358.2999999999997 L1230.4,3357.1 L1222.4,3355.9 Z" fill="#0a4a99"/>
<path d="M1220.0,3357.1 H1224.8000000000002 M1222.4,3354.7 V3359.5" stroke="#fff" stroke-width="0.9" opacity="0.8"/>
<circle cx="1370" cy="3354.3" r="7.6" fill="none" stroke="#0a4a99" stroke-width="1.4"/>
<text x="1366.2" y="3358.2" font-size="10.5" style="font-weight:bold" fill="#0a4a99">R</text>
</svg></body></html>
